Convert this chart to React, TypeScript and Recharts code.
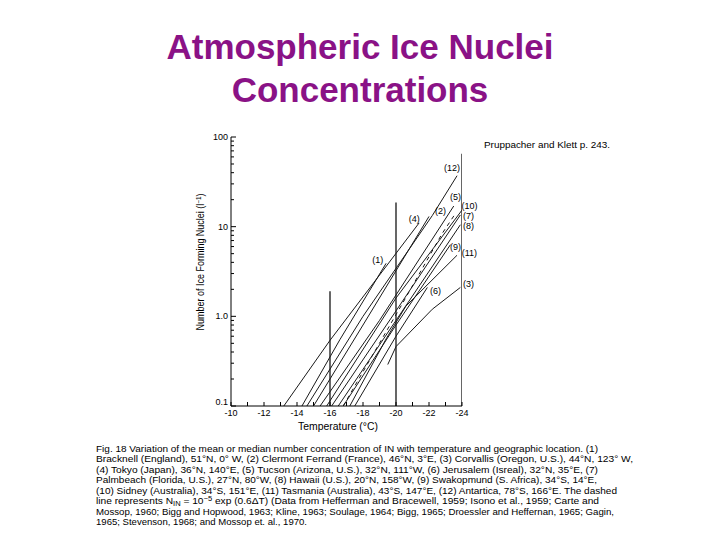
import { LineChart, Line, XAxis, YAxis, ReferenceDot } from "recharts";

// temperature (°C), number of ice nuclei per litre
const series1 = [[-14.3, 0.1], [-16.6, 0.55], [-19.4, 3.9]];
const series2 = [[-15.0, 0.1], [-18, 0.8], [-22.0, 13]];
const series3 = [[-19.5, 0.29], [-20, 0.46], [-22.2, 1.2], [-23.9, 2.1]];
const series4 = [[-13.2, 0.1], [-16, 0.54], [-21.4, 11]];
const series5 = [[-15.4, 0.1], [-19, 0.9], [-23.5, 17]];
const series6 = [[-17.5, 0.1], [-20, 0.6], [-21.9, 2.1]];
const series7 = [[-16.1, 0.1], [-20, 1.15], [-23.9, 13.5]];
const series8 = [[-16.5, 0.1], [-20, 0.9], [-23.9, 10.5]];
const series9 = [[-16.8, 0.1], [-20, 0.8], [-23.3, 6.3]];
const series10 = [[-15.8, 0.1], [-20, 1.6], [-24, 15.3]];
const series11 = [[-17.2, 0.1], [-19.4, 0.56], [-20.6, 1.3], [-23.7, 4.8]];
const series12 = [[-14.6, 0.1], [-18, 1.0], [-22.2, 13.3], [-23.7, 37]];
const dashedSeries = [[-16.8, 0.1], [-20.4, 1.4], [-22.8, 8.4], [-23.6, 14]];

const mark16 = [[-16, 0.1], [-16, 1.9]];
const mark20 = [[-20, 0.1], [-20, 18.6]];
const mark24 = [[-24, 0.1], [-24, 65]];

const solidSeries = [series1, series2, series3, series4, series5, series6, series7, series8, series9, series10, series11, series12];
const markSeries = [mark16, mark20, mark24];

const labelText = ["(1)", "(2)", "(3)", "(4)", "(5)", "(6)", "(7)", "(8)", "(9)", "(10)", "(11)", "(12)"];
const labelT = [-18.9, -22.7, -24.4, -21.1, -23.6, -22.4, -24.4, -24.4, -23.6, -24.45, -24.45, -23.4];
const labelN = [4.25, 15, 2.3, 12.2, 21.4, 1.92, 13.1, 10.2, 5.9, 17, 5.1, 45];

const xTicks = [-10, -11, -12, -13, -14, -15, -16, -17, -18, -19, -20, -21, -22, -23, -24];
const xLabels = [-10, -12, -14, -16, -18, -20, -22, -24];
const yTicks = [0.1, 0.2, 0.3, 0.4, 0.5, 0.6, 0.7, 0.8, 0.9, 1, 2, 3, 4, 5, 6, 7, 8, 9, 10, 20, 30, 40, 50, 60, 70, 80, 90, 100];
const yLabels = ["0.1", "1.0", "10", "100"];

const captionLines = [
  "Fig. 18  Variation of the mean or median number concentration of IN with temperature and geographic location. (1)",
  "Bracknell (England), 51°N, 0° W, (2) Clermont Ferrand (France), 46°N, 3°E, (3) Corvallis (Oregon, U.S.), 44°N, 123° W,",
  "(4) Tokyo (Japan), 36°N, 140°E, (5) Tucson (Arizona, U.S.), 32°N, 111°W, (6) Jerusalem (Isreal), 32°N, 35°E, (7)",
  "Palmbeach (Florida, U.S.), 27°N, 80°W, (8) Hawaii (U.S.), 20°N, 158°W, (9) Swakopmund (S. Africa), 34°S, 14°E,",
  "(10) Sidney (Australia), 34°S, 151°E, (11) Tasmania (Australia), 43°S, 147°E, (12) Antartica, 78°S, 166°E. The dashed",
  "",
  "Mossop, 1960; Bigg and Hopwood, 1963; Kline, 1963; Soulage, 1964; Bigg, 1965; Droessler and Heffernan, 1965; Gagin,",
  "1965; Stevenson, 1968; and Mossop et. al., 1970.",
];
const captionWidths = [502, 537, 502, 501, 521, 503, 518, 211];

const FONT = "'Liberation Sans', Arial, sans-serif";
const toRows = (s: number[][]) => s.map(([t, n]) => ({ t, n }));

function XTick(props: any) {
  const { x, y, payload } = props;
  const v = payload.value;
  return (
    <g>
      <line x1={x} x2={x} y1={y} y2={y - 4} stroke="#000" />
      {xLabels.includes(v) && (
        <text x={x} y={y + 10} textAnchor="middle" fontSize={9} fontFamily={FONT} fill="#000">
          {v}
        </text>
      )}
    </g>
  );
}

function YTick(props: any) {
  const { x, y, payload } = props;
  const v = payload.value;
  const idx = [0.1, 1, 10, 100].indexOf(v);
  return (
    <g>
      <line x1={x} x2={x + (idx >= 0 ? 5 : 3)} y1={y} y2={y} stroke="#000" />
      {idx >= 0 && (
        <text x={x - 3} y={y + 3 - (v === 0.1 ? 4 : 0)} textAnchor="end" fontSize={9} fontFamily={FONT} fill="#000">
          {yLabels[idx]}
        </text>
      )}
    </g>
  );
}

export default function App() {
  return (
    <div style={{ position: "absolute", left: 0, top: 0, width: 720, height: 540, background: "#fff" }}>
      <div style={{ position: "absolute", left: 0, top: 0 }}>
        <LineChart width={720} height={540} margin={{ top: 137, right: 258, bottom: 114, left: 201 }}>
          <XAxis
            type="number"
            dataKey="t"
            domain={[-24, -10]}
            reversed
            allowDataOverflow
            ticks={xTicks}
            interval={0}
            height={20}
            tickSize={0}
            tickMargin={0}
            tickLine={false}
            tick={<XTick />}
            axisLine={{ stroke: "#000" }}
          />
          <YAxis
            type="number"
            dataKey="n"
            scale="log"
            domain={[0.1, 100]}
            allowDataOverflow
            ticks={yTicks}
            interval={0}
            width={30}
            tickSize={0}
            tickMargin={0}
            tickLine={false}
            tick={<YTick />}
            axisLine={{ stroke: "#000" }}
          />
          {markSeries.map((s, i) => (
            <Line key={`m${i}`} data={toRows(s)} dataKey="n" stroke="#000" strokeWidth={1.2} dot={false} isAnimationActive={false} />
          ))}
          {solidSeries.map((s, i) => (
            <Line key={`s${i}`} data={toRows(s)} dataKey="n" stroke="#1a1a1a" strokeWidth={1} dot={false} isAnimationActive={false} />
          ))}
          <Line data={toRows(dashedSeries)} dataKey="n" stroke="#1a1a1a" strokeWidth={1} strokeDasharray="4 4" dot={false} isAnimationActive={false} />
          {labelText.map((txt, i) => (
            <ReferenceDot
              key={txt}
              x={labelT[i]}
              y={labelN[i]}
              r={0}
              ifOverflow="visible"
              shape={(p: any) => (
                <text x={p.cx} y={p.cy + 3} textAnchor="middle" fontSize={9} fontFamily={FONT} fill="#000">
                  {txt}
                </text>
              )}
            />
          ))}
        </LineChart>
      </div>
      <svg width={720} height={540} style={{ position: "absolute", left: 0, top: 0, pointerEvents: "none" }}>
        <text x={360} y={59} textAnchor="middle" fontSize={35} fontWeight="bold" fontFamily={FONT} fill="#8a1286">
          Atmospheric Ice Nuclei
        </text>
        <text x={360} y={102} textAnchor="middle" fontSize={35} fontWeight="bold" fontFamily={FONT} fill="#8a1286">
          Concentrations
        </text>
        <text x={484} y={147.5} fontSize={9.5} fontFamily={FONT} fill="#000" textLength={126} lengthAdjust="spacingAndGlyphs">
          Pruppacher and Klett p. 243.
        </text>
        <text
          x={0}
          y={0}
          transform="translate(204,262) rotate(-90)"
          textAnchor="middle"
          fontSize={10}
          fontFamily={FONT}
          fill="#000"
          textLength={137}
          lengthAdjust="spacingAndGlyphs"
        >
          Number of Ice Forming Nuclei (l<tspan dy={-3} fontSize={7}>−1</tspan><tspan dy={3}>)</tspan>
        </text>
        <text x={338} y={430} textAnchor="middle" fontSize={10} fontFamily={FONT} fill="#000" textLength={80} lengthAdjust="spacingAndGlyphs">
          Temperature (°C)
        </text>
        {captionLines.map((line, i) =>
          i === 5 ? (
            <text key={i} x={96} y={451.5 + 10.5 * i} fontSize={9.5} fontFamily={FONT} fill="#000" textLength={captionWidths[i]} lengthAdjust="spacingAndGlyphs">
              line represents N<tspan dy={2} fontSize={7}>IN</tspan>
              <tspan dy={-2}> = 10</tspan>
              <tspan dy={-3} fontSize={7}>−5</tspan>
              <tspan dy={3}> exp (0.6ΔT) (Data from Hefferman and Bracewell, 1959; Isono et al., 1959; Carte and</tspan>
            </text>
          ) : (
            <text key={i} x={96} y={451.5 + 10.5 * i} fontSize={9.5} fontFamily={FONT} fill="#000" textLength={captionWidths[i]} lengthAdjust="spacingAndGlyphs">
              {line}
            </text>
          )
        )}
      </svg>
    </div>
  );
}
